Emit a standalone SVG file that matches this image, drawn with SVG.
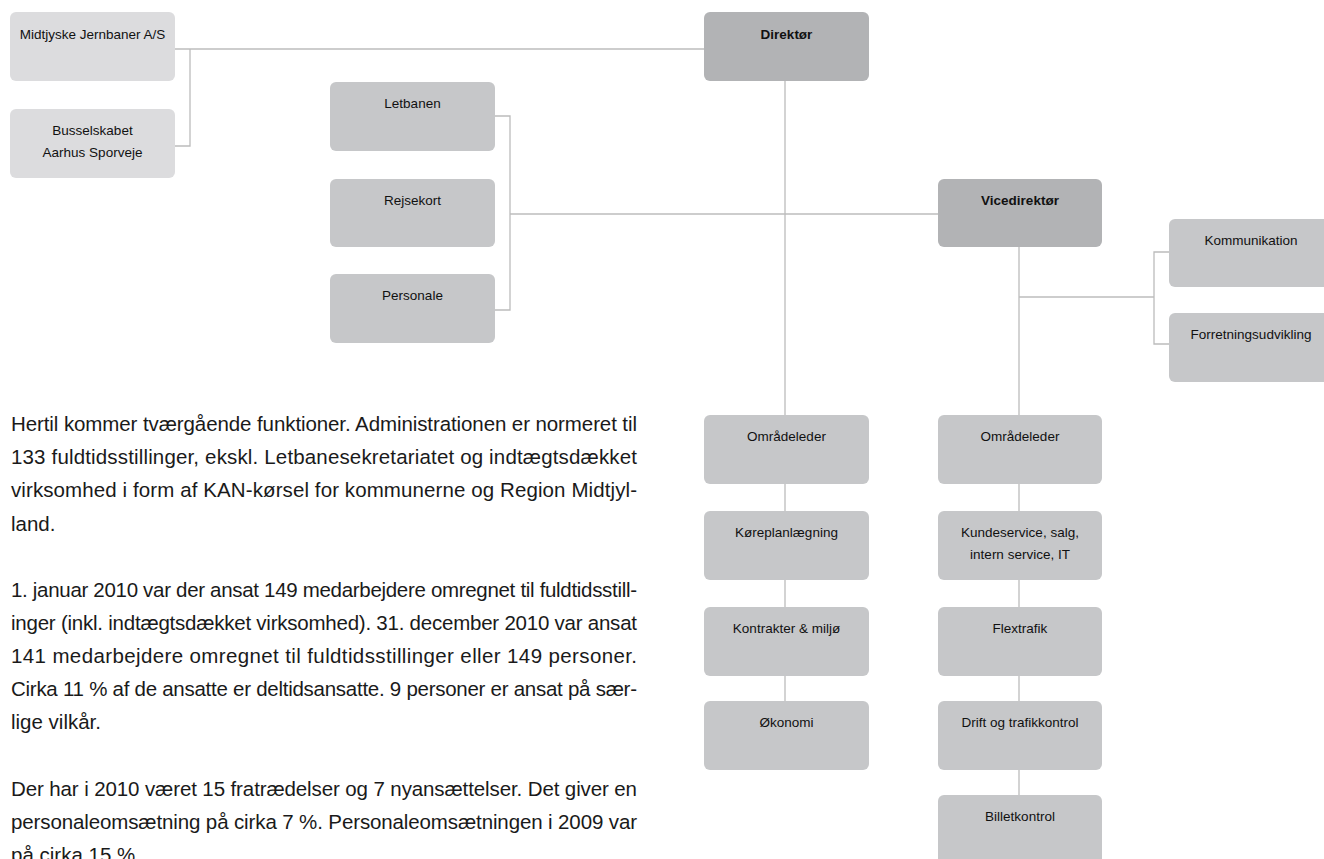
<svg xmlns="http://www.w3.org/2000/svg" width="1324" height="859" viewBox="0 0 1324 859">
<style>
.bg{fill:#ffffff}
.box{fill:#c6c7c9}
.lite{fill:#dcdcde}
.dark{fill:#b2b3b5}
.lbl{font-family:"Liberation Sans",Arial,sans-serif;font-size:13.5px;fill:#111111;text-anchor:middle}
.b{font-weight:bold}
.con{fill:none;stroke:#bcbcbc;stroke-width:1.3}
.body{font-family:"Liberation Sans",Arial,sans-serif;font-size:20.5px;fill:#1a1a1a}
</style>
<rect class="bg" x="0" y="0" width="1324" height="859"/>
<g id="connectors">
<path class="con" d="M175,49 H704"/>
<path class="con" d="M190,49 V146 H175"/>
<path class="con" d="M495,116 H510 V310 H495"/>
<path class="con" d="M510,214 H938"/>
<path class="con" d="M785,81 V415"/>
<path class="con" d="M1019,247 V415"/>
<path class="con" d="M1019,297 H1154"/>
<path class="con" d="M1169,252 H1154 V344 H1169"/>
<path class="con" d="M785,484 V511 M785,580 V607 M785,676 V701"/>
<path class="con" d="M1019,484 V511 M1019,580 V607 M1019,676 V701 M1019,770 V795"/>
</g>
<g id="midtjyske"><rect class="lite" x="10" y="12" width="165" height="69" rx="6"/><text class="lbl" x="92.5" y="38.5">Midtjyske Jernbaner A/S</text></g>
<g id="busselskabet"><rect class="lite" x="10" y="109" width="165" height="69" rx="6"/><text class="lbl" x="92.5" y="135">Busselskabet</text><text class="lbl" x="92.5" y="157">Aarhus Sporveje</text></g>
<g id="letbanen"><rect class="box" x="330" y="82" width="165" height="69" rx="6"/><text class="lbl" x="412.5" y="108">Letbanen</text></g>
<g id="rejsekort"><rect class="box" x="330" y="179" width="165" height="68" rx="6"/><text class="lbl" x="412.5" y="205">Rejsekort</text></g>
<g id="personale"><rect class="box" x="330" y="274" width="165" height="69" rx="6"/><text class="lbl" x="412.5" y="300">Personale</text></g>
<g id="direktoer"><rect class="dark" x="704" y="12" width="165" height="69" rx="6"/><text class="lbl b" x="786.5" y="38.5">Direktør</text></g>
<g id="vicedirektoer"><rect class="dark" x="938" y="179" width="164" height="68" rx="6"/><text class="lbl b" x="1020" y="205">Vicedirektør</text></g>
<g id="kommunikation"><rect class="box" x="1169" y="219" width="170" height="68" rx="6"/><text class="lbl" x="1251" y="245">Kommunikation</text></g>
<g id="forretningsudvikling"><rect class="box" x="1169" y="313" width="170" height="69" rx="6"/><text class="lbl" x="1251" y="339">Forretningsudvikling</text></g>
<g id="omraadeleder1"><rect class="box" x="704" y="415" width="165" height="69" rx="6"/><text class="lbl" x="786.5" y="441">Områdeleder</text></g>
<g id="koereplan"><rect class="box" x="704" y="511" width="165" height="69" rx="6"/><text class="lbl" x="786.5" y="537">Køreplanlægning</text></g>
<g id="kontrakter"><rect class="box" x="704" y="607" width="165" height="69" rx="6"/><text class="lbl" x="786.5" y="633">Kontrakter &amp; miljø</text></g>
<g id="oekonomi"><rect class="box" x="704" y="701" width="165" height="69" rx="6"/><text class="lbl" x="786.5" y="727">Økonomi</text></g>
<g id="omraadeleder2"><rect class="box" x="938" y="415" width="164" height="69" rx="6"/><text class="lbl" x="1020" y="441">Områdeleder</text></g>
<g id="kundeservice"><rect class="box" x="938" y="511" width="164" height="69" rx="6"/><text class="lbl" x="1020" y="537">Kundeservice, salg,</text><text class="lbl" x="1020" y="558.5">intern service, IT</text></g>
<g id="flextrafik"><rect class="box" x="938" y="607" width="164" height="69" rx="6"/><text class="lbl" x="1020" y="633">Flextrafik</text></g>
<g id="drift"><rect class="box" x="938" y="701" width="164" height="69" rx="6"/><text class="lbl" x="1020" y="727">Drift og trafikkontrol</text></g>
<g id="billetkontrol"><rect class="box" x="938" y="795" width="164" height="69" rx="6"/><text class="lbl" x="1020" y="821">Billetkontrol</text></g>
<g id="bodytext">
<text class="body" x="11" y="431" textLength="626">Hertil kommer tværgående funktioner. Administrationen er normeret til</text>
<text class="body" x="11" y="464.2" textLength="626">133 fuldtidsstillinger, ekskl. Letbanesekretariatet og indtægtsdækket</text>
<text class="body" x="11" y="497.3" textLength="626">virksomhed i form af KAN-kørsel for kommunerne og Region Midtjyl-</text>
<text class="body" x="11" y="530.5">land.</text>
<text class="body" x="11" y="596.8" textLength="626">1. januar 2010 var der ansat 149 medarbejdere omregnet til fuldtidsstill-</text>
<text class="body" x="11" y="630" textLength="626">inger (inkl. indtægtsdækket virksomhed). 31. december 2010 var ansat</text>
<text class="body" x="11" y="663.1" textLength="626">141 medarbejdere omregnet til fuldtidsstillinger eller 149 personer.</text>
<text class="body" x="11" y="696.3" textLength="626">Cirka 11 % af de ansatte er deltidsansatte. 9 personer er ansat på sær-</text>
<text class="body" x="11" y="729.4">lige vilkår.</text>
<text class="body" x="11" y="795.7" textLength="626">Der har i 2010 været 15 fratrædelser og 7 nyansættelser. Det giver en</text>
<text class="body" x="11" y="828.9" textLength="626">personaleomsætning på cirka 7 %. Personaleomsætningen i 2009 var</text>
<text class="body" x="11" y="862">på cirka 15 %.</text>
</g>
</svg>
